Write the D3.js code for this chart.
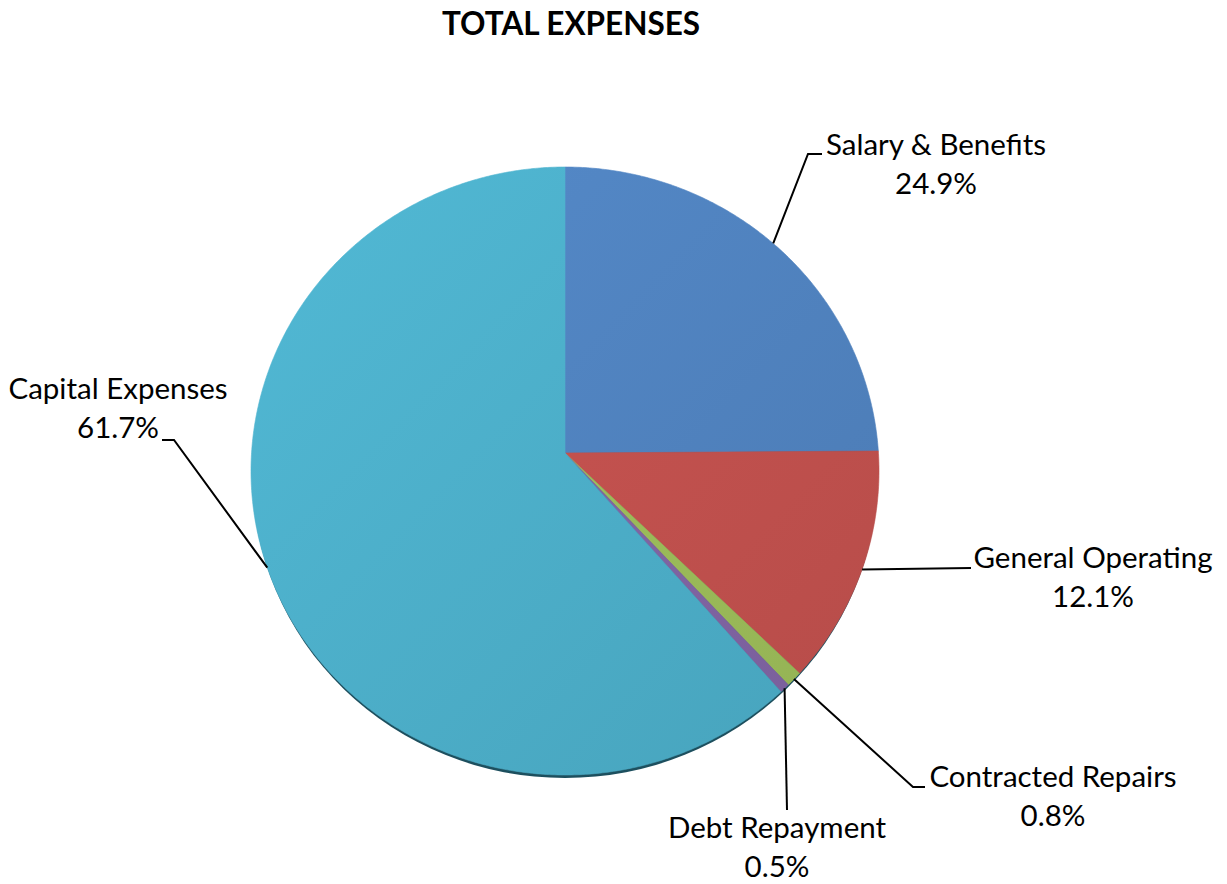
<!DOCTYPE html>
<html><head><meta charset="utf-8">
<script src="https://cdn.jsdelivr.net/npm/d3@7/dist/d3.min.js"></script>
<style>body{margin:0;background:#fff}svg{display:block}</style>
</head><body>
<svg id="chart" width="1227" height="884"></svg>
<script>
// ---- data ----
const categories = ["Salary & Benefits","General Operating","Contracted Repairs","Debt Repayment","Capital Expenses"];
const values = [24.9, 12.1, 0.8, 0.5, 61.7];
const valueLabels = ["24.9%","12.1%","0.8%","0.5%","61.7%"];
const title = "TOTAL EXPENSES";

// ---- styles / layout ----
const palette = ["#4f81bd","#c0504d","#9bbb59","#8064a2","#4bacc6"];
const FONT = "Lato, 'Open Sans', sans-serif";
const cx = 565, cy = 453;          // apex (pie centre as seen)
const ex = 565, ey = 471, rx = 314, ry = 304; // rim ellipse (slight perspective tilt)
const labelLayout = [
  {tx: 936, ty: 155, pts: [[808,154],[822,154]]},
  {tx: 1093, ty: 568, pts: [[971,568]]},
  {tx: 1053, ty: 787, pts: [[913,787],[925,787]]},
  {tx: 777, ty: 838, pts: [[787,810]]},
  {tx: 118, ty: 399, pts: [[174,440],[162,440]]}
];

const svg = d3.select("#chart");
const defs = svg.append("defs");

// intersection of the ray from the apex at angle a with the rim ellipse
function rim(a){
  const dx = Math.sin(a), dy = -Math.cos(a);
  const oy = (cy - ey) / ry;
  const A = (dx/rx)**2 + (dy/ry)**2;
  const B = 2 * (dy/ry) * oy;
  const C = oy*oy - 1;
  const t = (-B + Math.sqrt(B*B - 4*A*C)) / (2*A);
  return [cx + t*dx, cy + t*dy];
}
function slicePts(s, e){
  const pts = [[cx, cy]];
  const n = Math.max(2, Math.ceil((e - s) / (Math.PI/360)));
  for (let i = 0; i <= n; i++) pts.push(rim(s + (e - s) * i / n));
  return pts;
}
const line = d3.line();
const arcs = d3.pie().sort(null).value(d => d)(values);

// 3D side / shadow under the rim
svg.append("ellipse")
  .attr("cx", ex).attr("cy", ey + 3).attr("rx", rx - 1).attr("ry", ry)
  .attr("fill", "#1d4f5e");

// gradients
palette.forEach((c, i) => {
  const g = defs.append("linearGradient").attr("id", "g" + i)
    .attr("gradientUnits", "userSpaceOnUse")
    .attr("x1", ex - rx).attr("y1", ey - ry).attr("x2", ex + rx).attr("y2", ey + ry);
  g.append("stop").attr("offset", "0%").attr("stop-color", d3.color(c).brighter(0.2));
  g.append("stop").attr("offset", "100%").attr("stop-color", d3.color(c).darker(0.15));
});

svg.append("g").selectAll("path").data(arcs).join("path")
  .attr("d", d => line(slicePts(d.startAngle, d.endAngle)) + "Z")
  .attr("fill", (d, i) => `url(#g${i})`)
  .attr("stroke", (d, i) => `url(#g${i})`)
  .attr("stroke-width", 0.6);

// leader lines
svg.append("g").selectAll("path").data(arcs).join("path")
  .attr("d", (d, i) => {
    const m = (d.startAngle + d.endAngle) / 2;
    return line([rim(m), ...labelLayout[i].pts]);
  })
  .attr("fill", "none").attr("stroke", "#000").attr("stroke-width", 2);

// labels
const lg = svg.append("g").attr("font-family", FONT).attr("font-size", 29.5).attr("fill", "#000").attr("text-anchor", "middle");
categories.forEach((c, i) => {
  const L = labelLayout[i];
  const t = lg.append("text").attr("x", L.tx).attr("y", L.ty);
  t.append("tspan").attr("x", L.tx).text(c);
  t.append("tspan").attr("x", L.tx).attr("dy", 39).text(valueLabels[i]);
});

// title
svg.append("text").attr("x", 571).attr("y", 35).attr("text-anchor", "middle")
  .attr("font-family", FONT).attr("font-weight", "bold").attr("font-size", 31.5)
  .text(title);
</script>
</body></html>
